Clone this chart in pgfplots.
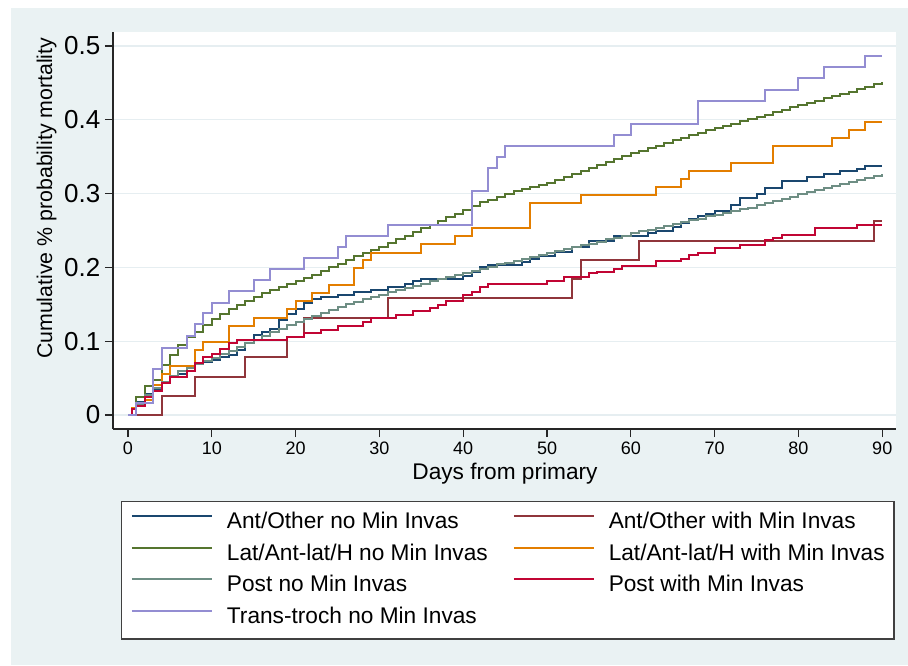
\documentclass[border=0pt]{standalone}
\usepackage{fontspec}
\setmainfont{Liberation Sans}
\usepackage{pgfplots}
\pgfplotsset{compat=1.18}
\definecolor{bgc}{HTML}{EAF2F3}
\definecolor{gridc}{HTML}{E6EEF1}
\definecolor{snavy}{HTML}{1A476F}
\definecolor{smaroon}{HTML}{90353B}
\definecolor{sgreen}{HTML}{55752F}
\definecolor{sorange}{HTML}{E37E00}
\definecolor{steal}{HTML}{6E8E84}
\definecolor{scran}{HTML}{C10534}
\definecolor{slav}{HTML}{938DD2}
\begin{document}
\begin{tikzpicture}
\useasboundingbox (0,0) rectangle (681pt,498.75pt);
\fill[white] (0,0) rectangle (681pt,498.75pt);
\fill[bgc] (8.25pt,0) rectangle (681pt,492.75pt);
\begin{axis}[
  at={(84.75pt,177pt)}, anchor=south west,
  scale only axis, width=587.25pt, height=297.75pt,
  xmin=-1.79, xmax=91.64, ymin=-0.019, ymax=0.519,
  axis x line=bottom, axis y line=left,
  axis line style={-, line width=0.9pt, color=black!85},
  xtick={0,10,20,30,40,50,60,70,80,90},
  ytick={0,0.1,0.2,0.3,0.4,0.5},
  tick align=outside, major tick length=6pt,
  tick style={line width=0.9pt, color=black!85},
  ymajorgrids, major grid style={color=gridc, line width=1pt},
  axis background/.style={fill=white},
  /pgf/number format/assume math mode=true,
  yticklabel style={font=\fontsize{19.5}{20}\selectfont},
  xticklabel style={font=\fontsize{13.5}{14}\selectfont},
  xlabel={Days from primary},
  xlabel style={font=\fontsize{17}{18}\selectfont, at={(axis description cs:0.5006,-0.1134)}, anchor=center},
  ylabel={Cumulative \% probability mortality},
  ylabel style={font=\fontsize{16}{17}\selectfont, at={(axis description cs:-0.0849,0.581)}, anchor=center},
  no markers,
  every axis plot/.append style={const plot, line width=1.5pt},
  legend columns=2,
  legend cell align=left,
  legend style={at={(0.0102,-0.1814)}, anchor=north west, draw=black!75, line width=1pt, fill=white,
    font=\fontsize{17}{18}\selectfont, inner xsep=7pt, inner ysep=8pt, row sep=8.3pt,
    nodes={inner sep=0pt, text height=12pt, text depth=3.5pt},
    /tikz/every odd column/.append style={column sep=10.5pt},
    /tikz/every even column/.append style={column sep=18.75pt}},
  legend image code/.code={\path (0pt,0pt) -- (0pt,0pt); \draw[#1] (0pt,5pt) -- (60pt,5pt);},
]
% Ant/Other no Min Invas
\addplot[snavy] coordinates {(0,0)(0.5,0.008)(1,0.018)(2,0.029)(3,0.034)(4,0.043)(5,0.051)(6,0.056)(7,0.063)(8,0.069)(9,0.072)(10,0.075)(11,0.078)(12,0.081)(13,0.088)(14,0.097)(15,0.109)(16,0.113)(17,0.117)(18,0.129)(19,0.137)(20,0.143)(21,0.152)(22,0.157)(23,0.160)(25,0.163)(27,0.167)(29,0.170)(31,0.174)(33,0.178)(34,0.181)(35,0.184)(40,0.189)(41,0.194)(42,0.200)(43,0.203)(47,0.207)(48,0.212)(49,0.215)(51,0.221)(53,0.228)(55,0.236)(58,0.243)(62,0.247)(63,0.250)(65,0.255)(66,0.260)(67,0.265)(68,0.269)(69,0.272)(70,0.276)(72,0.285)(73,0.294)(75,0.300)(76,0.307)(78,0.317)(81,0.322)(83,0.326)(85,0.330)(87,0.334)(88,0.337)(90,0.337)};
\addlegendentry{Ant/Other no Min Invas}
% Ant/Other with Min Invas
\addplot[smaroon] coordinates {(0,0)(4,0.026)(8,0.052)(14,0.078)(19,0.105)(21,0.131)(31,0.158)(53,0.184)(54,0.210)(61,0.236)(89,0.263)(90,0.263)};
\addlegendentry{Ant/Other with Min Invas}
% Lat/Ant-lat/H no Min Invas
\addplot[sgreen] coordinates {(0,0)(1,0.024)(2,0.039)(3,0.047)(4,0.068)(5,0.081)(6,0.095)(7,0.105)(8,0.113)(9,0.122)(10,0.130)(11,0.137)(12,0.143)(13,0.149)(14,0.155)(15,0.160)(16,0.165)(17,0.170)(18,0.174)(19,0.178)(20,0.182)(21,0.186)(22,0.190)(23,0.195)(24,0.200)(25,0.205)(26,0.210)(27,0.215)(28,0.219)(29,0.223)(30,0.228)(31,0.233)(32,0.238)(33,0.243)(34,0.248)(35,0.253)(36,0.258)(37,0.263)(38,0.268)(39,0.273)(40,0.278)(41,0.283)(42,0.288)(43,0.292)(44,0.296)(45,0.300)(46,0.303)(47,0.306)(48,0.309)(49,0.312)(50,0.315)(51,0.319)(52,0.323)(53,0.327)(54,0.331)(55,0.335)(56,0.339)(57,0.343)(58,0.347)(59,0.351)(60,0.355)(61,0.358)(62,0.362)(63,0.365)(64,0.369)(65,0.372)(66,0.375)(67,0.379)(68,0.382)(69,0.386)(70,0.389)(71,0.392)(72,0.395)(73,0.398)(74,0.401)(75,0.404)(76,0.407)(77,0.410)(78,0.413)(79,0.417)(80,0.420)(81,0.423)(82,0.426)(83,0.429)(84,0.432)(85,0.435)(86,0.438)(87,0.442)(88,0.445)(89,0.448)(90,0.451)};
\addlegendentry{Lat/Ant-lat/H no Min Invas}
% Lat/Ant-lat/H with Min Invas
\addplot[sorange] coordinates {(0,0)(0.5,0.010)(1,0.015)(2,0.020)(3,0.040)(4,0.055)(5,0.066)(8,0.088)(9,0.099)(12,0.121)(15,0.132)(19,0.143)(20,0.154)(22,0.165)(24,0.176)(27,0.199)(28,0.210)(29,0.220)(35,0.232)(39,0.243)(41,0.253)(48,0.287)(54,0.298)(63,0.309)(66,0.320)(67,0.331)(72,0.342)(77,0.364)(84,0.376)(86,0.386)(88,0.397)(90,0.397)};
\addlegendentry{Lat/Ant-lat/H with Min Invas}
% Post no Min Invas
\addplot[steal] coordinates {(0,0)(1,0.015)(2,0.027)(3,0.036)(4,0.045)(5,0.053)(6,0.059)(7,0.064)(8,0.069)(9,0.073)(10,0.077)(11,0.082)(12,0.087)(13,0.092)(14,0.097)(15,0.102)(16,0.107)(17,0.112)(18,0.117)(19,0.122)(20,0.126)(21,0.130)(22,0.134)(23,0.138)(24,0.142)(25,0.146)(26,0.150)(27,0.153)(28,0.157)(29,0.160)(30,0.163)(31,0.166)(32,0.169)(33,0.172)(34,0.175)(35,0.178)(36,0.181)(37,0.184)(38,0.187)(39,0.190)(40,0.192)(41,0.195)(42,0.198)(43,0.201)(44,0.204)(45,0.206)(46,0.209)(47,0.211)(48,0.214)(49,0.217)(50,0.219)(51,0.222)(52,0.225)(53,0.227)(54,0.230)(55,0.232)(56,0.235)(57,0.238)(58,0.240)(59,0.243)(60,0.246)(61,0.249)(62,0.251)(63,0.254)(64,0.256)(65,0.259)(66,0.261)(67,0.264)(68,0.266)(69,0.269)(70,0.271)(71,0.274)(72,0.276)(73,0.279)(74,0.281)(75,0.284)(76,0.287)(77,0.290)(78,0.293)(79,0.296)(80,0.299)(81,0.302)(82,0.305)(83,0.307)(84,0.310)(85,0.313)(86,0.316)(87,0.319)(88,0.321)(89,0.324)(90,0.327)};
\addlegendentry{Post no Min Invas}
% Post with Min Invas
\addplot[scran] coordinates {(0,0)(0.5,0.008)(1,0.012)(2,0.025)(3,0.033)(4,0.044)(5,0.051)(7,0.060)(8,0.070)(9,0.078)(10,0.083)(11,0.090)(12,0.097)(13,0.101)(19,0.106)(21,0.111)(23,0.115)(25,0.120)(28,0.126)(29,0.131)(32,0.136)(34,0.141)(36,0.145)(37,0.149)(38,0.154)(40,0.162)(41,0.167)(42,0.173)(43,0.178)(50,0.182)(52,0.187)(55,0.192)(56,0.194)(58,0.198)(59,0.202)(63,0.208)(66,0.212)(67,0.217)(68,0.220)(70,0.226)(73,0.231)(76,0.237)(77,0.240)(78,0.244)(82,0.253)(87,0.258)(90,0.258)};
\addlegendentry{Post with Min Invas}
% Trans-troch no Min Invas
\addplot[slav] coordinates {(0,0)(1,0.016)(3,0.062)(4,0.091)(7,0.107)(8,0.123)(9,0.138)(10,0.152)(12,0.168)(15,0.183)(17,0.198)(21,0.213)(25,0.228)(26,0.243)(31,0.258)(41,0.304)(43,0.335)(44,0.350)(45,0.365)(58,0.380)(60,0.395)(68,0.426)(76,0.441)(80,0.456)(83,0.471)(88,0.487)(90,0.487)};
\addlegendentry{Trans-troch no Min Invas}
\end{axis}
\end{tikzpicture}
\end{document}
